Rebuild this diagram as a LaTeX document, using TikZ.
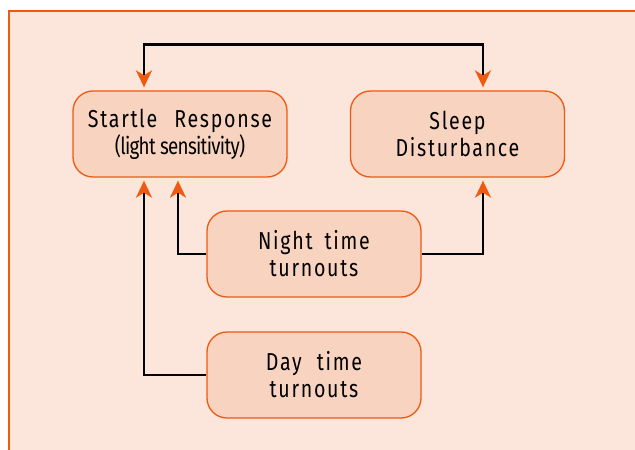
\documentclass[tikz,border=0pt]{standalone}
\usepackage{fontspec}
\setmainfont{Fira Sans}[FakeStretch=0.8,LetterSpace=7]
\usetikzlibrary{arrows.meta}
\definecolor{pagepeach}{HTML}{FCE5DA}
\definecolor{boxpeach}{HTML}{F8D3BF}
\definecolor{rimorange}{HTML}{EE5A12}
\begin{document}
\begin{tikzpicture}[x=1pt,y=-1pt,
  box/.style={draw=rimorange,line width=1.3pt,fill=boxpeach,rounded corners=20pt,minimum width=214pt,minimum height=86pt,align=center,font=\fontsize{24.5}{27}\selectfont},
  link/.style={line width=2.4pt,-{Stealth[length=17pt,width=16pt,inset=5pt,color=rimorange]},shorten >=3pt}]
\useasboundingbox (0,0) rectangle (635,450);
\fill[white] (0,0) rectangle (635,450);
\draw[rimorange,fill=pagepeach,line width=2pt] (9,11) rectangle (660,480);

\node(SR) [box] at (180,134) {Startle\hspace{17pt}Response\\{\fontsize{23.5}{25}\selectfont\addfontfeature{LetterSpace=-3}(light sensitivity)}};
\node(SD) [box] at (457.5,134) {Sleep\\Disturbance};
\node(NT) [box] at (314,254) {Night\hspace{12pt}time\\turnouts};
\node(DT) [box] at (314,375) {Day\hspace{15pt}time\\turnouts};

\draw[link,{Stealth[length=17pt,width=16pt,inset=5pt,color=rimorange]}-{Stealth[length=17pt,width=16pt,inset=5pt,color=rimorange]},shorten <=3pt] ([xshift=-36pt]SR.north) -- ++(0,-46) -| ([xshift=25.5pt]SD.north);
\draw[link] (NT.west) -| ([xshift=-2pt]SR.south);
\draw[link] (NT.east) -| ([xshift=25.5pt]SD.south);
\draw[link] (DT.west) -| ([xshift=-36pt]SR.south);
\end{tikzpicture}
\end{document}
